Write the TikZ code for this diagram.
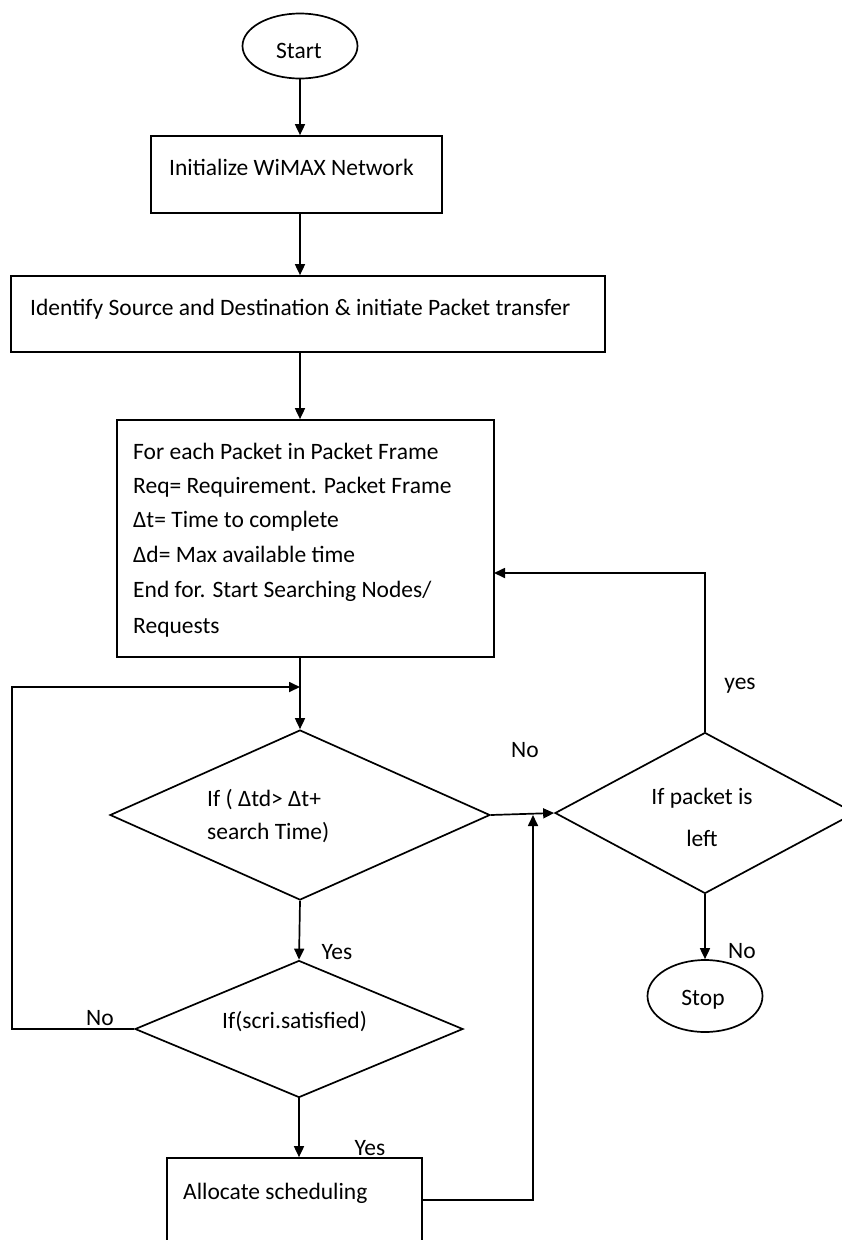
\documentclass[tikz,border=0pt]{standalone}
\usepackage{fontspec}
\setmainfont{Carlito}
\usetikzlibrary{arrows.meta,shapes.geometric}
\begin{document}
\begin{tikzpicture}[x=1pt,y=-1pt,
  every node/.style={font=\fontsize{23.5}{35}\selectfont, text=black},
  ln/.style={line width=1.7pt, draw=black},
  arr/.style={ln, -{Triangle[length=11pt,width=10pt]}},
  boxnode/.style={draw=black, line width=1.7pt, rectangle, inner sep=0pt},
  term/.style={draw=black, line width=1.7pt, ellipse, inner sep=0pt},
  dec/.style={draw=black, line width=1.7pt, diamond, inner sep=0pt},
  txt/.style={inner sep=0pt, anchor=base west},
  ctxt/.style={inner sep=0pt, anchor=center}
]
\useasboundingbox (0,0) rectangle (841,1240);

% shapes
\node[term, minimum width=115pt, minimum height=65pt] (start) at (300,46) {};
\node[ctxt] (startT) at (299,51) {Start};

\node[boxnode, minimum width=291pt, minimum height=77pt] (init) at (296.5,174.5) {};
\node[txt] (initT) at (169,175) {Initialize WiMAX Network};

\node[boxnode, minimum width=594pt, minimum height=76pt] (ident) at (308,314) {};
\node[txt] (identT) at (30,315) {Identify Source and Destination \& initiate Packet transfer};

\node[boxnode, minimum width=377pt, minimum height=237pt] (big) at (305.5,538.5) {};
\node[txt] (b1) at (133,459) {For each Packet in Packet Frame};
\node[txt] (b2) at (133,493) {Req= Requirement. Packet Frame};
\node[txt] (b3) at (133,527) {Δt= Time to complete};
\node[txt] (b4) at (133,562) {Δd= Max available time};
\node[txt] (b5) at (133,597) {End for. Start Searching Nodes/};
\node[txt] (b6) at (133,633) {Requests};

\node[dec, minimum width=380pt, minimum height=170pt] (d1) at (300,815) {};
\node[txt] (d1a) at (207,806) {If ( Δtd> Δt+};
\node[txt] (d1b) at (207,839) {search Time)};

\node[dec, minimum width=300pt, minimum height=161pt] (d3) at (705,813) {};
\node[ctxt] (d3a) at (702,798) {If packet is};
\node[ctxt] (d3b) at (702,838) {left};

\node[term, minimum width=115pt, minimum height=72pt] (stop) at (705,996) {};
\node[ctxt] (stopT) at (703,1000) {Stop};

\node[dec, minimum width=328pt, minimum height=137pt] (d2) at (299,1029) {};
\node[txt] (d2T) at (222,1028) {If(scri.satisfied)};

\node[boxnode, minimum width=255pt, minimum height=84pt] (alloc) at (294.5,1200) {};
\node[txt] (allocT) at (183,1199) {Allocate scheduling};

% helper coordinates
\coordinate (j1) at (300,687);
\coordinate (lc) at (12,1029);
\coordinate (m1) at (533,815);
\coordinate (r1) at (494,573);

% connectors
\draw[arr] (start.south) -- (start.south |- init.north);
\draw[arr] (init.south -| start.south) -- (start.south |- ident.north);
\draw[arr] (ident.south -| start.south) -- (start.south |- big.north);
\draw[arr] (big.south -| d1.north) -- (d1.north);
\draw[arr] (d1.south) -- (d2.north);
\draw[arr] (d2.south) -- (d2.south |- alloc.north);
\draw[arr] (d2.west) -- (lc) |- (j1);
\draw[arr] (d1.east) -- (d3.west);
\draw[arr] (alloc.east) -| (m1);
\draw[arr] (d3.north) |- (r1);
\draw[arr] (d3.south) -- (stop.north);

% labels
\node[ctxt] (lno1) at (525,750) {No};
\node[ctxt] (lyes1) at (740,686) {yes};
\node[ctxt] (lno2) at (742,951) {No};
\node[ctxt] (lyes2) at (337,952) {Yes};
\node[ctxt] (lno3) at (100,1018) {No};
\node[ctxt] (lyes3) at (370,1148) {Yes};
\end{tikzpicture}
\end{document}
